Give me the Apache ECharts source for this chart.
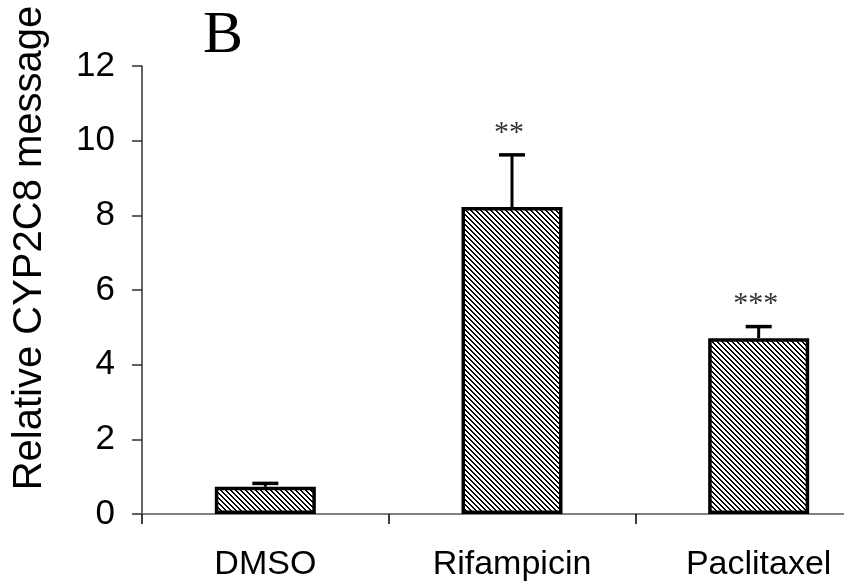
<!DOCTYPE html>
<html>
<head>
<meta charset="utf-8">
<script src="https://cdn.jsdelivr.net/npm/echarts@6/dist/echarts.min.js"></script>
<style>
html,body{margin:0;padding:0;background:#fff;overflow:hidden;width:844px;height:588px;}
#chart{width:882px;height:588px;}
</style>
</head>
<body>
<div id="chart"></div>
<script>
// ---- data ----
const categories = ['DMSO', 'Rifampicin', 'Paclitaxel'];
const means = [0.73, 8.22, 4.71];
const errors = [0.09, 1.40, 0.31];
const significance = ['', '**', '***'];
const yTicks = { min: 0, max: 12, interval: 2 };
const yTitle = 'Relative CYP2C8 message';
const panelLabel = 'B';

// ---- hatch pattern ("\" diagonal) ----
function makeHatch() {
  const p = 5;
  const c = document.createElement('canvas');
  c.width = p; c.height = p;
  const ctx = c.getContext('2d');
  const img = ctx.createImageData(p, p);
  for (let y = 0; y < p; y++) {
    for (let x = 0; x < p; x++) {
      const k = ((x - y) % p + p) % p;
      const v = (k === 0 || k === 1) ? 0 : 255;
      const idx = (y * p + x) * 4;
      img.data[idx] = v; img.data[idx + 1] = v; img.data[idx + 2] = v; img.data[idx + 3] = 255;
    }
  }
  ctx.putImageData(img, 0, 0);
  return c;
}

const chart = echarts.init(document.getElementById('chart'), null, { renderer: 'canvas' });

const errData = categories.map((c, i) => [i, means[i], means[i] + errors[i], significance[i]]);

chart.setOption({
  animation: false,
  backgroundColor: '#fff',
  grid: { left: 142, right: 0, top: 66, height: 448, containLabel: false },
  xAxis: {
    type: 'category',
    data: categories,
    boundaryGap: true,
    axisLine: { lineStyle: { color: '#808080', width: 2 } },
    axisTick: { show: true, length: 10, inside: false, lineStyle: { color: '#000', width: 1.5 } },
    axisLabel: { color: '#000', fontFamily: 'Liberation Sans, Arial, sans-serif', fontSize: 34, margin: 34 },
    splitLine: { show: false }
  },
  yAxis: {
    type: 'value',
    min: yTicks.min, max: yTicks.max, interval: yTicks.interval,
    axisLine: { show: true, lineStyle: { color: '#303030', width: 1.5 } },
    axisTick: { show: true, length: 10, lineStyle: { color: '#303030', width: 1.5 } },
    axisLabel: { color: '#000', fontFamily: 'Liberation Sans, Arial, sans-serif', fontSize: 35, margin: 27 },
    splitLine: { show: false }
  },
  graphic: [
    {
      type: 'text', x: 30, y: 248, rotation: Math.PI / 2,
      style: { text: yTitle, fill: '#000', font: '40px "Liberation Sans", Arial, sans-serif', align: 'center', verticalAlign: 'middle' }
    },
    {
      type: 'text', x: 223, y: 36,
      style: { text: panelLabel, fill: '#000', font: '60px "Liberation Serif", "Times New Roman", serif', align: 'center', verticalAlign: 'middle' }
    }
  ],
  series: [
    {
      type: 'bar',
      data: means,
      barWidth: 101,
      itemStyle: {
        color: { image: makeHatch(), repeat: 'repeat' },
        borderColor: '#000',
        borderWidth: 3.5
      },
      z: 2
    },
    {
      type: 'custom',
      data: errData,
      z: 3,
      renderItem: function (params, api) {
        const i = api.value(0);
        const base = api.coord([i, api.value(1)]);
        const top = api.coord([i, api.value(2)]);
        const half = 13;
        const children = [
          { type: 'line', shape: { x1: base[0], y1: base[1], x2: top[0], y2: top[1] }, style: { stroke: '#000', lineWidth: 3 } },
          { type: 'line', shape: { x1: top[0] - half, y1: top[1], x2: top[0] + half, y2: top[1] }, style: { stroke: '#000', lineWidth: 3.5 } }
        ];
        const lbl = errData[params.dataIndex][3];
        if (lbl) {
          children.push({
            type: 'text', x: top[0] - 3, y: top[1] - 7,
            style: { text: lbl, fill: '#333', font: '30px "Liberation Serif", "Times New Roman", serif', align: 'center', verticalAlign: 'bottom' }
          });
        }
        return { type: 'group', children: children };
      }
    }
  ]
});
</script>
</body>
</html>
